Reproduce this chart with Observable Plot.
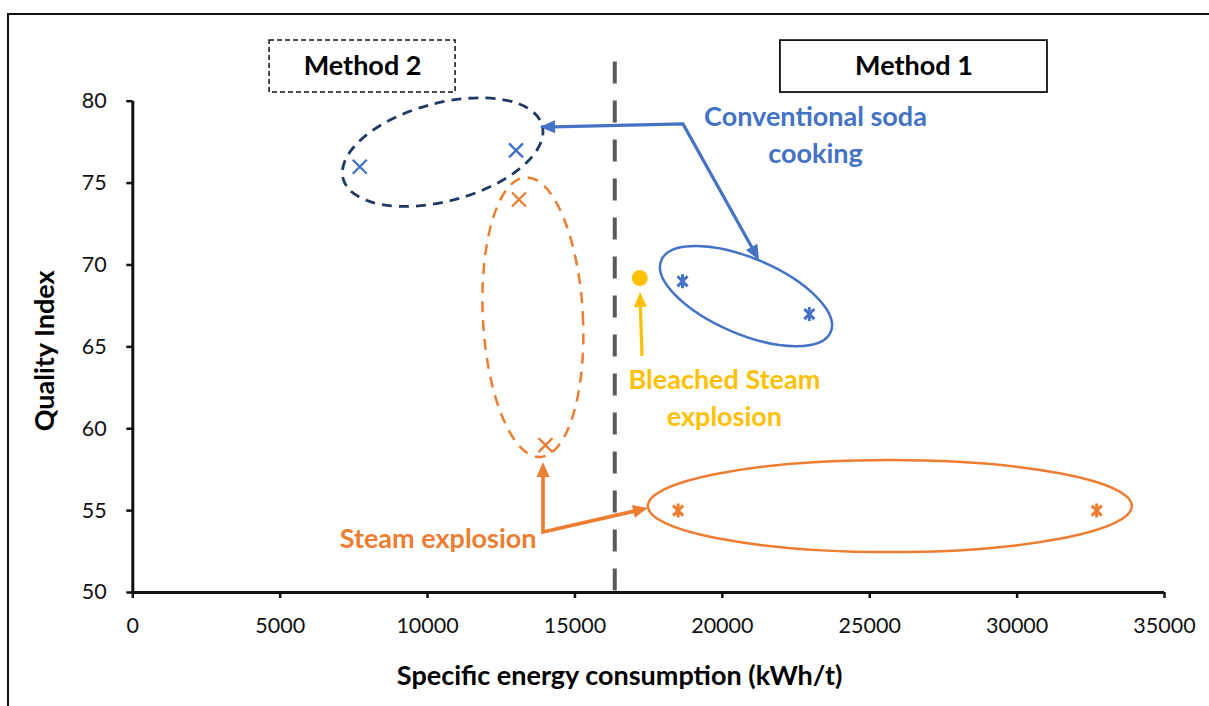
<!DOCTYPE html>
<html>
<head>
<meta charset="utf-8">
<script src="https://cdn.jsdelivr.net/npm/d3@7"></script>
<script src="https://cdn.jsdelivr.net/npm/@observablehq/plot@0.6"></script>
<style>
  html, body { margin: 0; padding: 0; background: #fff; overflow: hidden; }
  #wrap { position: relative; width: 1209px; height: 706px; overflow: hidden; }
  #frame { position: absolute; left: 7px; top: 13px; width: 1400px; height: 900px;
           border: 2.5px solid #111; pointer-events: none; }
</style>
</head>
<body>
<div id="wrap"><div id="chart"></div><div id="frame"></div></div>
<script>
// ---------- data ----------
const xTicks = [0, 5000, 10000, 15000, 20000, 25000, 30000, 35000];
const yTicks = [50, 55, 60, 65, 70, 75, 80];

const sodaX = [7700, 13000, 18650, 22950];
const sodaY = [76, 77, 69, 67];
const sodaMethod = ["Method 2", "Method 2", "Method 1", "Method 1"];

const steamX = [13100, 14000, 18500, 32700];
const steamY = [74, 59, 55, 55];
const steamMethod = ["Method 2", "Method 2", "Method 1", "Method 1"];

const bleachedX = [17200];
const bleachedY = [69.2];

const methodDivider = 16350;
const dividerTop = 82.4;

const xTitle = "Specific energy consumption (kWh/t)";
const yTitle = "Quality Index";

// annotation boxes (data coordinates)
const boxLabels = ["Method 2", "Method 1"];
const boxX1 = [4640, 21970];
const boxX2 = [10950, 31030];
const boxY1 = [80.53, 80.53];
const boxY2 = [83.7, 83.7];

// annotation texts
const noteTexts = ["Conventional soda\ncooking", "Bleached Steam\nexplosion", "Steam explosion"];
const noteX = [23160, 20070, 10360];
const noteY = [78.1, 62.03, 53.47];
const noteColors = ["#4472C4", "#FFC000", "#ED7D31"];

// ellipse groupings: center in data units
const ellCx = [10530, 13590, 20820, 25700];
const ellCy = [76.86, 66.78, 68.07, 55.25];
// arrows: vertices in data units
const arrowBlue = [[13831, 78.39], [18682, 78.58], [21261, 70.27]];
const arrowOrange = [[13933, 57.94], [13933, 53.67], [17495, 55.13]];
const arrowGold = [[17291, 64.41], [17223, 68.32]];

// ---------- build ----------
const BLUE = "#4472C4", NAVY = "#203864", ORANGE = "#ED7D31", GOLD = "#FFC000";

const soda = sodaX.map((x, i) => ({x, y: sodaY[i], method: sodaMethod[i]}));
const steam = steamX.map((x, i) => ({x, y: steamY[i], method: steamMethod[i]}));
const bleached = bleachedX.map((x, i) => ({x, y: bleachedY[i]}));
const boxes = boxLabels.map((label, i) => ({label, x1: boxX1[i], x2: boxX2[i], y1: boxY1[i], y2: boxY2[i]}));
const notes = noteTexts.map((text, i) => ({text, x: noteX[i], y: noteY[i], color: noteColors[i]}));

const ellStyles = [
  {rx: 103, ry: 49, angle: -15, color: NAVY, width: 2.8, dash: "10,7"},
  {rx: 50, ry: 140, angle: -3, color: ORANGE, width: 2.5, dash: "11,8"},
  {rx: 92, ry: 38, angle: 23, color: BLUE, width: 2.5, dash: null},
  {rx: 242, ry: 46, angle: 0, color: ORANGE, width: 2.5, dash: null}
];

const thinX = {draw(ctx, size) {
  const r = Math.sqrt(size / Math.PI);
  ctx.moveTo(-r, -r); ctx.lineTo(r, r); ctx.moveTo(-r, r); ctx.lineTo(r, -r);
}};
const star = {draw(ctx, size) {
  const r = Math.sqrt(size / Math.PI), d = r * 0.72;
  ctx.moveTo(-d, -d); ctx.lineTo(d, d); ctx.moveTo(-d, d); ctx.lineTo(d, -d);
  ctx.moveTo(0, -r); ctx.lineTo(0, r);
}};

function ellipsesMark(index, scales) {
  const g = d3.create("svg:g");
  ellCx.forEach((cx, i) => {
    const s = ellStyles[i];
    g.append("ellipse")
      .attr("cx", 0).attr("cy", 0).attr("rx", s.rx).attr("ry", s.ry)
      .attr("transform", `translate(${scales.x(cx)},${scales.y(ellCy[i])}) rotate(${s.angle})`)
      .attr("fill", "none").attr("stroke", s.color).attr("stroke-width", s.width)
      .attr("stroke-dasharray", s.dash);
  });
  return g.node();
}

function arrowMark(points, color, startHead, endHead, width) {
  return (index, scales) => {
    const g = d3.create("svg:g");
    const p = points.map(([a, b]) => [scales.x(a), scales.y(b)]);
    const L = 15, W = 6.5;
    const heads = [];
    const line = p.map(q => q.slice());
    function head(tip, from, k) {
      const dx = tip[0] - from[0], dy = tip[1] - from[1], len = Math.hypot(dx, dy);
      const ux = dx / len, uy = dy / len;
      const bx = tip[0] - ux * L, by = tip[1] - uy * L;
      heads.push([[tip[0], tip[1]], [bx - uy * W, by + ux * W], [bx + uy * W, by - ux * W]]);
      line[k] = [tip[0] - ux * (L - 2), tip[1] - uy * (L - 2)];
    }
    if (startHead) head(p[0], p[1], 0);
    if (endHead) head(p[p.length - 1], p[p.length - 2], p.length - 1);
    g.append("path").attr("d", d3.line()(line)).attr("fill", "none")
      .attr("stroke", color).attr("stroke-width", width).attr("stroke-linejoin", "miter");
    heads.forEach(h => g.append("path").attr("d", "M" + h.join("L") + "Z").attr("fill", color));
    return g.node();
  };
}

const chart = Plot.plot({
  width: 1209,
  height: 706,
  marginLeft: 132.3,
  marginRight: 45,
  marginTop: 100.7,
  marginBottom: 114,
  style: {fontFamily: "Lato, 'Open Sans', sans-serif", background: "transparent", color: "#111"},
  x: {domain: [0, 35000]},
  y: {domain: [50, 80]},
  marks: [
    Plot.rect(boxes.filter(d => d.label === "Method 2"), {x1: "x1", x2: "x2", y1: "y1", y2: "y2",
      fill: "white", stroke: "#111", strokeWidth: 1.5, strokeDasharray: "5,3"}),
    Plot.rect(boxes.filter(d => d.label === "Method 1"), {x1: "x1", x2: "x2", y1: "y1", y2: "y2",
      fill: "white", stroke: "#111", strokeWidth: 1.8}),
    Plot.text(boxes, {x: d => (d.x1 + d.x2) / 2, y: d => (d.y1 + d.y2) / 2, text: "label",
      fontSize: 27, fontWeight: "bold", fill: "#000"}),
    Plot.ruleX([methodDivider], {y1: dividerTop, y2: 50, stroke: "#595959", strokeWidth: 4, strokeDasharray: "22,17"}),
    ellipsesMark,
    arrowMark(arrowBlue, BLUE, true, true, 3.2),
    arrowMark(arrowOrange, ORANGE, true, true, 3.6),
    arrowMark(arrowGold, GOLD, false, true, 3.2),
    Plot.dot(soda.filter(d => d.method === "Method 2"), {x: "x", y: "y", symbol: thinX, r: 7,
      stroke: BLUE, strokeWidth: 2.3, fill: "none"}),
    Plot.dot(soda.filter(d => d.method === "Method 1"), {x: "x", y: "y", symbol: star, r: 7,
      stroke: BLUE, strokeWidth: 3, fill: "none"}),
    Plot.dot(steam.filter(d => d.method === "Method 2"), {x: "x", y: "y", symbol: thinX, r: 7,
      stroke: ORANGE, strokeWidth: 2.3, fill: "none"}),
    Plot.dot(steam.filter(d => d.method === "Method 1"), {x: "x", y: "y", symbol: star, r: 7,
      stroke: ORANGE, strokeWidth: 3, fill: "none"}),
    Plot.dot(bleached, {x: "x", y: "y", r: 8, fill: GOLD, stroke: "none"}),
    Plot.text(notes, {x: "x", y: "y", text: "text", fill: "color", fontSize: 27, fontWeight: "bold",
      lineHeight: 1.37, lineAnchor: "middle"}),
    Plot.ruleX([0], {stroke: "#111", strokeWidth: 3}),
    Plot.ruleY([50], {stroke: "#111", strokeWidth: 3}),
    Plot.axisX({ticks: xTicks, tickSize: 6, tickPadding: 19, tickFormat: d3.format("d"),
      fontSize: 21.5, label: null, strokeWidth: 2.5}),
    Plot.axisY({ticks: yTicks, tickSize: 6, tickPadding: 20, tickFormat: d3.format("d"),
      fontSize: 21.5, label: null, strokeWidth: 2.5}),
    Plot.text([xTitle], {frameAnchor: "bottom", dx: -29, dy: 84, lineAnchor: "middle", textAnchor: "middle",
      text: d => d, fontSize: 27, fontWeight: "bold", fill: "#000"}),
    Plot.text([yTitle], {frameAnchor: "left", dx: -87, dy: 4, rotate: -90, lineAnchor: "middle",
      textAnchor: "middle", text: d => d, fontSize: 27, fontWeight: "bold", fill: "#000"})
  ]
});
document.getElementById("chart").appendChild(chart);
</script>
</body>
</html>
